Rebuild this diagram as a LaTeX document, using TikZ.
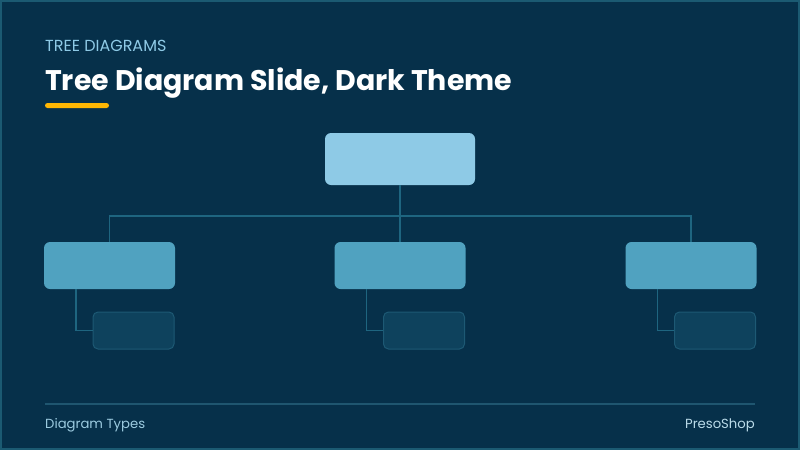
\documentclass[tikz,border=0pt]{standalone}
\usepackage{fontspec}
\setmainfont{Poppins}
\usetikzlibrary{positioning}

\definecolor{bgnavy}{HTML}{06304A}
\definecolor{frameteal}{HTML}{1B5A72}
\definecolor{kicker}{HTML}{8ECAE6}
\definecolor{accent}{HTML}{FFB703}
\definecolor{rootfill}{HTML}{8ECAE6}
\definecolor{midfill}{HTML}{50A2C0}
\definecolor{leaffill}{HTML}{0E425D}
\definecolor{leafline}{HTML}{1D5974}
\definecolor{linkteal}{HTML}{1E6580}
\definecolor{footline}{HTML}{1F5670}
\definecolor{foottext}{HTML}{9CCBE0}

\tikzset{
  rootbox/.style={rectangle, rounded corners=6pt, fill=rootfill, minimum width=150pt, minimum height=52pt, inner sep=0pt},
  midbox/.style={rectangle, rounded corners=6pt, fill=midfill, minimum width=131pt, minimum height=47pt, inner sep=0pt},
  leafbox/.style={rectangle, rounded corners=5pt, fill=leaffill, draw=leafline, line width=1pt, minimum width=81pt, minimum height=37pt, inner sep=0pt},
  link/.style={draw=linkteal, line width=1.5pt}
}

\begin{document}
\begin{tikzpicture}[x=1pt,y=-1pt]
\fill[bgnavy] (0,0) rectangle (800,450);
\draw[frameteal, line width=2pt] (1,1) rectangle (799,449);
\useasboundingbox (0,0) rectangle (800,450);

% heading
\node[anchor=west, inner sep=0pt, text=kicker, font=\fontsize{16}{19}\selectfont] (kick) at (45,46) {TREE DIAGRAMS};
\node[anchor=base west, inner sep=0pt, text=white, font=\bfseries\fontsize{28.4}{34}\selectfont] (title) at (45,90) {Tree Diagram Slide, Dark Theme};
\fill[accent, rounded corners=2.5pt] (45,103) rectangle (109,108);

% tree
\node[rootbox] (root) at (400,159) {};
\foreach \i/\x in {1/109.5,2/400,3/691} {
  \node[midbox] (mid\i) at (\x,265.5) {};
  \node[leafbox] (leaf\i) at (\x+24,330.5) {};
  \draw[link] ([xshift=-33.5pt]mid\i.south) |- (leaf\i.west);
}
\coordinate (bus) at (400,216);
\draw[link] (root.south) -- (mid2.north);
\draw[link] (mid1.north) -- (mid1.north |- bus) -- (mid3.north |- bus) -- (mid3.north);

% footer
\draw[footline, line width=1.5pt] (45,404) -- (755,404);
\node[anchor=west, inner sep=0pt, text=foottext, font=\fontsize{13.2}{15}\selectfont] (footl) at (45,425) {Diagram Types};
\node[anchor=east, inner sep=0pt, text=foottext!70!white, font=\fontsize{13.2}{15}\selectfont] (footr) at (755,425) {PresoShop};
\end{tikzpicture}
\end{document}
